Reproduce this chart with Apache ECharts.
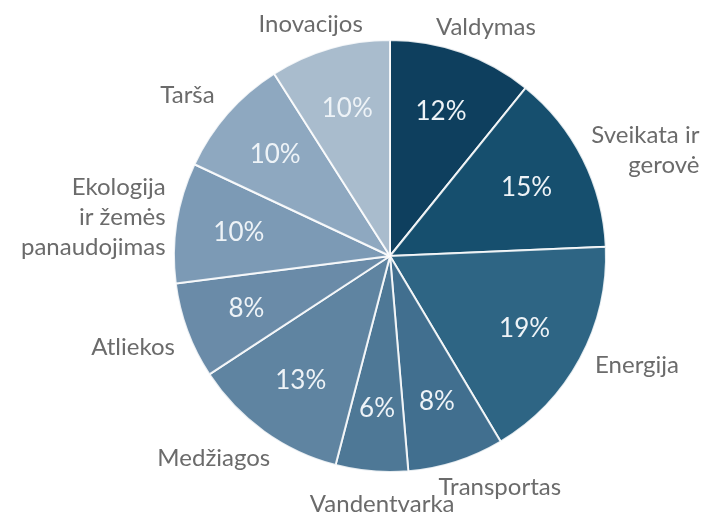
<!DOCTYPE html>
<html>
<head>
<meta charset="utf-8">
<script src="https://cdn.jsdelivr.net/npm/echarts@6/dist/echarts.min.js"></script>
<style>
  html, body { margin: 0; padding: 0; background: #fff; }
  #chart { width: 708px; height: 512px; }
</style>
</head>
<body>
<div id="chart"></div>
<script>
// Used data
var categories = ['Valdymas', 'Sveikata ir\ngerovė', 'Energija', 'Transportas', 'Vandentvarka',
  'Medžiagos', 'Atliekos', 'Ekologija\nir žemės\npanaudojimas', 'Tarša', 'Inovacijos'];
var shares = [12, 15, 19, 8, 6, 13, 8, 10, 10, 10];
var colors = ['#0e3f5e', '#164f6e', '#2e6584', '#416f8f', '#4e7896',
  '#5f84a1', '#6a8ba8', '#7c9ab5', '#8ea8c0', '#a9bccd'];

// Layout
var cx = 390, cy = 256, R = 216, gap = 16;
// small hand nudges for the outer names [dx, dy]
var nudges = [[2, 4], [0, 12], [6, -8], [20, -4], [18, 2], [-8, 2], [0, 6], [4, 4], [-8, 2], [0, 5]];
var total = shares.reduce((a, b) => a + b, 0);
var midAngles = [];
var acc = 0;
shares.forEach((v) => {
  midAngles.push(((acc + v / 2) / total) * Math.PI * 2);
  acc += v;
});

var pieData = categories.map((name, i) => ({
  name: name,
  value: shares[i],
  itemStyle: { color: colors[i] },
}));

var myChart = echarts.init(document.getElementById('chart'), null, { renderer: 'canvas' });

myChart.setOption({
  backgroundColor: '#ffffff',
  animation: false,
  series: [
    {
      type: 'pie',
      center: [cx, cy],
      radius: R,
      startAngle: 90,
      clockwise: true,
      data: pieData,
      itemStyle: { borderColor: 'rgba(255,255,255,0.85)', borderWidth: 2 },
      label: {
        show: true,
        position: 'outside',
        formatter: '{b}',
        overflow: 'none',
        color: '#6b6b6b',
        fontFamily: 'Lato',
        fontSize: 24,
        lineHeight: 30,
      },
      labelLine: { show: false },
      // put each name just outside the rim, box touching a circle of radius R + gap
      labelLayout: function (params) {
        var i = params.dataIndex;
        var a = midAngles[i];
        var s = Math.sin(a), c = Math.cos(a);
        var w = params.labelRect.width, h = params.labelRect.height;
        var px = cx + (R + gap) * s;
        var py = cy - (R + gap) * c;
        var bx = px + (w / 2) * s + nudges[i][0];
        var by = py - (h / 2) * c + nudges[i][1];
        return { x: bx + w / 2, y: by, align: 'right', verticalAlign: 'middle' };
      },
      emphasis: { disabled: true },
    },
    {
      type: 'pie',
      center: [cx, cy],
      radius: [100, 200],
      startAngle: 90,
      clockwise: true,
      silent: true,
      data: pieData.map((d) => ({ name: d.name, value: d.value })),
      itemStyle: { color: 'rgba(0,0,0,0)', borderWidth: 0 },
      label: {
        show: true,
        position: 'inside',
        formatter: '{c}%',
        color: '#eef3f7',
        fontFamily: 'Lato',
        fontSize: 26,
      },
      labelLine: { show: false },
      emphasis: { disabled: true },
    },
  ],
});
</script>
</body>
</html>
